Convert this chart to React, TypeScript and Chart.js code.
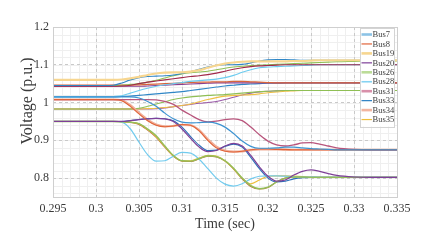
import { useEffect, useRef } from "react";
import { Chart, registerables } from "chart.js";

Chart.register(...registerables);

// ---------- data ----------
const TIME = [
  0.295, 0.301, 0.302, 0.303, 0.304, 0.305, 0.306, 0.307, 0.308, 0.309, 0.31,
  0.311, 0.312, 0.313, 0.314, 0.315, 0.316, 0.317, 0.318, 0.319, 0.32, 0.321,
  0.322, 0.323, 0.324, 0.325, 0.326, 0.327, 0.328, 0.33, 0.332, 0.335,
];

const X_TICKS = [0.295, 0.3, 0.305, 0.31, 0.315, 0.32, 0.325, 0.33, 0.335];
const Y_TICKS = [0.8, 0.9, 1.0, 1.1, 1.2];
const X_MINOR_STEP = 0.001;
const Y_MINOR_STEP = 0.02;

// legend buses
const bus7 = [1.015, 1.015, 1.015, 1.015, 1.015, 1.012, 1.003, 0.99, 0.972, 0.957, 0.948, 0.946, 0.947, 0.948, 0.945, 0.935, 0.918, 0.898, 0.884, 0.879, 0.879, 0.88, 0.882, 0.882, 0.88, 0.878, 0.877, 0.876, 0.875, 0.875, 0.875, 0.875];
const bus8 = [1.008, 1.008, 1.008, 1.005, 0.99, 0.97, 0.952, 0.94, 0.936, 0.938, 0.942, 0.94, 0.925, 0.9, 0.88, 0.871, 0.869, 0.871, 0.875, 0.877, 0.877, 0.876, 0.876, 0.875, 0.875, 0.875, 0.875, 0.875, 0.875, 0.875, 0.875, 0.875];
const bus19 = [1.06, 1.06, 1.06, 1.061, 1.064, 1.068, 1.073, 1.077, 1.079, 1.08, 1.08, 1.082, 1.086, 1.092, 1.098, 1.103, 1.106, 1.108, 1.109, 1.109, 1.109, 1.109, 1.109, 1.11, 1.11, 1.111, 1.112, 1.112, 1.112, 1.112, 1.112, 1.112];
const bus20 = [0.95, 0.95, 0.95, 0.95, 0.952, 0.955, 0.957, 0.958, 0.957, 0.95, 0.93, 0.905, 0.882, 0.87, 0.873, 0.885, 0.892, 0.885, 0.86, 0.83, 0.805, 0.792, 0.795, 0.808, 0.818, 0.822, 0.818, 0.812, 0.807, 0.803, 0.802, 0.802];
const bus26 = [0.95, 0.95, 0.95, 0.949, 0.948, 0.944, 0.93, 0.912, 0.885, 0.86, 0.846, 0.845, 0.852, 0.859, 0.857, 0.846, 0.826, 0.8, 0.78, 0.772, 0.776, 0.79, 0.8, 0.803, 0.803, 0.802, 0.802, 0.802, 0.802, 0.802, 0.802, 0.802];
const bus28 = [0.95, 0.95, 0.95, 0.948, 0.93, 0.895, 0.862, 0.845, 0.846, 0.858, 0.868, 0.866, 0.85, 0.825, 0.8, 0.784, 0.779, 0.785, 0.798, 0.805, 0.806, 0.806, 0.805, 0.804, 0.803, 0.803, 0.802, 0.802, 0.802, 0.802, 0.802, 0.802];
const bus31 = [1.008, 1.008, 1.008, 1.008, 1.008, 1.008, 1.008, 1.007, 1.003, 0.995, 0.98, 0.967, 0.955, 0.949, 0.951, 0.955, 0.957, 0.952, 0.935, 0.915, 0.898, 0.888, 0.885, 0.888, 0.893, 0.894, 0.89, 0.885, 0.88, 0.876, 0.875, 0.875];
const bus33 = [0.95, 0.95, 0.95, 0.95, 0.952, 0.955, 0.957, 0.958, 0.957, 0.952, 0.935, 0.91, 0.887, 0.873, 0.874, 0.884, 0.89, 0.882, 0.855, 0.825, 0.8, 0.79, 0.792, 0.798, 0.801, 0.802, 0.802, 0.802, 0.802, 0.802, 0.802, 0.802];
const bus34 = [1.008, 1.008, 1.008, 1.006, 0.993, 0.973, 0.955, 0.942, 0.937, 0.938, 0.941, 0.94, 0.927, 0.903, 0.883, 0.873, 0.87, 0.871, 0.874, 0.876, 0.876, 0.876, 0.875, 0.875, 0.875, 0.875, 0.875, 0.875, 0.875, 0.875, 0.875, 0.875];
const bus35 = [0.95, 0.95, 0.95, 0.949, 0.948, 0.944, 0.929, 0.91, 0.884, 0.859, 0.846, 0.846, 0.853, 0.86, 0.858, 0.846, 0.825, 0.8, 0.785, 0.795, 0.805, 0.806, 0.806, 0.805, 0.804, 0.803, 0.802, 0.802, 0.802, 0.802, 0.802, 0.802];

// other buses (not in legend)
const otherA = [0.95, 0.95, 0.95, 0.949, 0.947, 0.942, 0.927, 0.908, 0.882, 0.858, 0.845, 0.844, 0.851, 0.858, 0.856, 0.845, 0.824, 0.798, 0.778, 0.771, 0.775, 0.79, 0.8, 0.803, 0.803, 0.802, 0.802, 0.802, 0.802, 0.802, 0.802, 0.802];
const otherB = [1.045, 1.045, 1.046, 1.052, 1.06, 1.066, 1.069, 1.07, 1.071, 1.073, 1.077, 1.082, 1.088, 1.094, 1.098, 1.1, 1.1, 1.101, 1.105, 1.11, 1.113, 1.114, 1.114, 1.113, 1.112, 1.112, 1.112, 1.112, 1.112, 1.112, 1.112, 1.112];
const otherC = [1.043, 1.043, 1.043, 1.044, 1.046, 1.05, 1.054, 1.057, 1.06, 1.063, 1.066, 1.069, 1.071, 1.074, 1.078, 1.083, 1.088, 1.092, 1.095, 1.097, 1.098, 1.099, 1.1, 1.1, 1.1, 1.1, 1.1, 1.1, 1.1, 1.1, 1.1, 1.1];
const otherD = [1.045, 1.045, 1.045, 1.046, 1.048, 1.05, 1.054, 1.059, 1.065, 1.071, 1.076, 1.079, 1.081, 1.083, 1.087, 1.091, 1.094, 1.096, 1.098, 1.099, 1.1, 1.101, 1.102, 1.103, 1.104, 1.105, 1.106, 1.107, 1.108, 1.109, 1.11, 1.11];
const otherE = [1.015, 1.015, 1.016, 1.018, 1.025, 1.032, 1.038, 1.043, 1.047, 1.05, 1.053, 1.056, 1.058, 1.06, 1.062, 1.066, 1.072, 1.08, 1.087, 1.092, 1.094, 1.095, 1.096, 1.097, 1.098, 1.099, 1.1, 1.1, 1.1, 1.1, 1.1, 1.1];
const otherF = [1.046, 1.046, 1.046, 1.046, 1.046, 1.047, 1.048, 1.049, 1.05, 1.051, 1.052, 1.053, 1.054, 1.054, 1.055, 1.055, 1.056, 1.056, 1.055, 1.054, 1.053, 1.052, 1.052, 1.052, 1.052, 1.052, 1.052, 1.052, 1.052, 1.052, 1.052, 1.052];
const otherG = [1.043, 1.043, 1.043, 1.043, 1.043, 1.043, 1.044, 1.045, 1.046, 1.047, 1.048, 1.049, 1.05, 1.051, 1.052, 1.052, 1.052, 1.052, 1.052, 1.052, 1.052, 1.052, 1.052, 1.052, 1.052, 1.052, 1.052, 1.052, 1.052, 1.052, 1.052, 1.052];
const otherH = [1.015, 1.015, 1.015, 1.016, 1.017, 1.019, 1.021, 1.023, 1.025, 1.027, 1.029, 1.032, 1.035, 1.038, 1.041, 1.044, 1.046, 1.048, 1.049, 1.05, 1.051, 1.051, 1.052, 1.052, 1.052, 1.052, 1.052, 1.052, 1.052, 1.052, 1.052, 1.052];
const otherI = [0.983, 0.983, 0.983, 0.983, 0.983, 0.985, 0.99, 0.996, 1.002, 1.008, 1.012, 1.015, 1.017, 1.019, 1.02, 1.021, 1.023, 1.025, 1.027, 1.029, 1.03, 1.031, 1.032, 1.032, 1.032, 1.032, 1.032, 1.032, 1.032, 1.032, 1.032, 1.032];
const otherJ = [0.983, 0.983, 0.983, 0.983, 0.983, 0.983, 0.984, 0.985, 0.987, 0.989, 0.992, 0.996, 1.002, 1.008, 1.013, 1.017, 1.019, 1.02, 1.021, 1.023, 1.026, 1.028, 1.03, 1.031, 1.032, 1.032, 1.032, 1.032, 1.032, 1.032, 1.032, 1.032];
const otherK = [0.983, 0.983, 0.983, 0.983, 0.983, 0.983, 0.983, 0.984, 0.986, 0.989, 0.992, 0.995, 0.998, 1.0, 1.003, 1.008, 1.014, 1.02, 1.025, 1.028, 1.03, 1.031, 1.032, 1.032, 1.032, 1.032, 1.032, 1.032, 1.032, 1.032, 1.032, 1.032];

type Series = { label: string; values: number[]; color: string; width: number; legend: boolean };

const SERIES: Series[] = [
  { label: "Bus7", values: bus7, color: "#3d93d1", width: 1.2, legend: true },
  { label: "Bus8", values: bus8, color: "#e0643a", width: 1.1, legend: true },
  { label: "Bus19", values: bus19, color: "#f7d690", width: 2.2, legend: true },
  { label: "Bus20", values: bus20, color: "#7e3f98", width: 1.2, legend: true },
  { label: "Bus26", values: bus26, color: "#93bf5a", width: 1.4, legend: true },
  { label: "Bus28", values: bus28, color: "#72cbee", width: 1.2, legend: true },
  { label: "Bus31", values: bus31, color: "#b8557c", width: 1.3, legend: true },
  { label: "Bus33", values: bus33, color: "#2a6fb8", width: 1.1, legend: true },
  { label: "Bus34", values: bus34, color: "#f0ae98", width: 2.2, legend: true },
  { label: "Bus35", values: bus35, color: "#eebf3c", width: 1.2, legend: true },
  { label: "", values: otherA, color: "#c2703a", width: 1.1, legend: false },
  { label: "", values: otherB, color: "#2f86c6", width: 1.1, legend: false },
  { label: "", values: otherC, color: "#a2294a", width: 1.1, legend: false },
  { label: "", values: otherD, color: "#8fbf55", width: 1.1, legend: false },
  { label: "", values: otherE, color: "#6ccbef", width: 1.1, legend: false },
  { label: "", values: otherF, color: "#d9643a", width: 1.2, legend: false },
  { label: "", values: otherG, color: "#8a3f8e", width: 1.1, legend: false },
  { label: "", values: otherH, color: "#2f86c6", width: 1.1, legend: false },
  { label: "", values: otherI, color: "#8fbf55", width: 1.1, legend: false },
  { label: "", values: otherJ, color: "#efbf45", width: 1.1, legend: false },
  { label: "", values: otherK, color: "#9a5aa8", width: 1.1, legend: false },
];

// legend-sample styles (line width)
const LEGEND_WIDTH: Record<string, number> = {
  Bus7: 2.6, Bus8: 1.2, Bus19: 2.6, Bus20: 1.2, Bus26: 2.6,
  Bus28: 1.6, Bus31: 2.6, Bus33: 1.2, Bus34: 2.6, Bus35: 1.2,
};
const LEGEND_COLOR: Record<string, string> = {
  Bus7: "#8cc3e6", Bus8: "#e0643a", Bus19: "#f7d690", Bus20: "#7e3f98", Bus26: "#bcdc98",
  Bus28: "#86d3f2", Bus31: "#d990aa", Bus33: "#2a7fc2", Bus34: "#f2b5a0", Bus35: "#eebf3c",
};

const X_TITLE = "Time (sec)";
const Y_TITLE = "Voltage (p.u.)";

const SERIF = "'Liberation Serif', 'Times New Roman', serif";
const TEXT = "#3a3a3a";

const fmt = (v: number) => String(Number(v.toFixed(4)));

const decorPlugin = {
  id: "decor",
  beforeDraw(chart: any) {
    const { ctx, chartArea: a, scales } = chart;
    ctx.save();
    ctx.fillStyle = "#ffffff";
    ctx.fillRect(0, 0, chart.width, chart.height);
    // minor grid
    ctx.strokeStyle = "#efefef";
    ctx.lineWidth = 1;
    const xs = scales.x;
    const ys = scales.y;
    for (let v = 0.295; v <= 0.3351; v += X_MINOR_STEP) {
      const px = Math.round(xs.getPixelForValue(v)) + 0.5;
      ctx.beginPath();
      ctx.moveTo(px, a.top);
      ctx.lineTo(px, a.bottom);
      ctx.stroke();
    }
    for (let v = 0.76; v <= 1.2001; v += Y_MINOR_STEP) {
      const py = Math.round(ys.getPixelForValue(v)) + 0.5;
      ctx.beginPath();
      ctx.moveTo(a.left, py);
      ctx.lineTo(a.right, py);
      ctx.stroke();
    }
    ctx.restore();
  },
  afterDatasetsDraw(chart: any) {
    const { ctx, chartArea: a } = chart;
    ctx.save();
    ctx.strokeStyle = "#cfcfcf";
    ctx.lineWidth = 1;
    ctx.strokeRect(Math.round(a.left) + 0.5, Math.round(a.top) + 0.5, Math.round(a.right - a.left), Math.round(a.bottom - a.top));
    ctx.restore();
  },
  afterDraw(chart: any) {
    const { ctx, chartArea: a } = chart;
    ctx.save();
    // axis titles
    ctx.fillStyle = TEXT;
    ctx.textAlign = "center";
    ctx.textBaseline = "middle";
    ctx.font = `14px ${SERIF}`;
    ctx.fillText(X_TITLE, (a.left + a.right) / 2, 224);
    ctx.save();
    ctx.translate(28, 101);
    ctx.rotate(-Math.PI / 2);
    ctx.font = `16px ${SERIF}`;
    ctx.fillText(Y_TITLE, 0, 0);
    ctx.restore();

    // legend box inside plot, top right
    const items = chart.data.datasets.filter((d: any) => d.showInLegend);
    const boxR = a.right - 3;
    const boxL = boxR - 34;
    const boxT = a.top + 1;
    const rowH = 9.45;
    const boxH = items.length * rowH + 4;
    ctx.fillStyle = "#ffffff";
    ctx.fillRect(boxL, boxT, boxR - boxL, boxH);
    ctx.strokeStyle = "#d4d4d4";
    ctx.lineWidth = 1;
    ctx.strokeRect(Math.round(boxL) + 0.5, Math.round(boxT) + 0.5, Math.round(boxR - boxL), Math.round(boxH));
    ctx.font = `8.5px ${SERIF}`;
    ctx.textAlign = "left";
    ctx.textBaseline = "middle";
    items.forEach((d: any, i: number) => {
      const cy = boxT + 6.5 + i * rowH;
      ctx.strokeStyle = LEGEND_COLOR[d.label] || d.borderColor;
      ctx.lineWidth = LEGEND_WIDTH[d.label] || 1.2;
      ctx.beginPath();
      ctx.moveTo(boxL + 1.5, cy);
      ctx.lineTo(boxL + 12, cy);
      ctx.stroke();
      ctx.fillStyle = TEXT;
      ctx.fillText(d.label, boxL + 12.5, cy + 0.5);
    });
    ctx.restore();
  },
};

export default function App() {
  const ref = useRef<HTMLCanvasElement | null>(null);

  useEffect(() => {
    if (!ref.current) return;
    const datasets = SERIES.map((s) => ({
      label: s.label,
      data: TIME.map((t, i) => ({ x: t, y: s.values[i] })),
      borderColor: s.color,
      backgroundColor: s.color,
      borderWidth: s.width,
      pointRadius: 0,
      fill: false,
      cubicInterpolationMode: "monotone" as const,
      showInLegend: s.legend,
    }));

    const chart = new Chart(ref.current, {
      type: "line",
      data: { datasets: datasets as any },
      options: {
        animation: false,
        responsive: false,
        maintainAspectRatio: false,
        layout: { padding: { top: 27, right: 39, left: 0, bottom: 0 } },
        plugins: { legend: { display: false }, tooltip: { enabled: false } },
        scales: {
          x: {
            type: "linear",
            min: 0.295,
            max: 0.335,
            afterBuildTicks: (s: any) => {
              s.ticks = X_TICKS.map((v) => ({ value: v }));
            },
            afterFit: (s: any) => {
              s.height = 45;
            },
            ticks: {
              callback: (v: any) => fmt(Number(v)),
              font: { family: SERIF, size: 12 },
              color: TEXT,
              maxRotation: 0,
              autoSkip: false,
              padding: 5,
            },
            grid: { color: "#c9c9c9", lineWidth: 1, drawTicks: false },
            border: { display: false, dash: [3, 3] },
          },
          y: {
            type: "linear",
            min: 0.75,
            max: 1.2,
            afterBuildTicks: (s: any) => {
              s.ticks = Y_TICKS.map((v) => ({ value: v }));
            },
            afterFit: (s: any) => {
              s.width = 53;
            },
            ticks: {
              callback: (v: any) => fmt(Number(v)),
              font: { family: SERIF, size: 12 },
              color: TEXT,
              autoSkip: false,
              padding: 4,
            },
            grid: { color: "#c9c9c9", lineWidth: 1, drawTicks: false },
            border: { display: false, dash: [3, 3] },
          },
        },
      },
      plugins: [decorPlugin],
    });
    return () => chart.destroy();
  }, []);

  return (
    <div style={{ position: "absolute", left: 0, top: 0, width: 436, height: 242 }}>
      <canvas ref={ref} width={436} height={242} style={{ display: "block" }} />
    </div>
  );
}
